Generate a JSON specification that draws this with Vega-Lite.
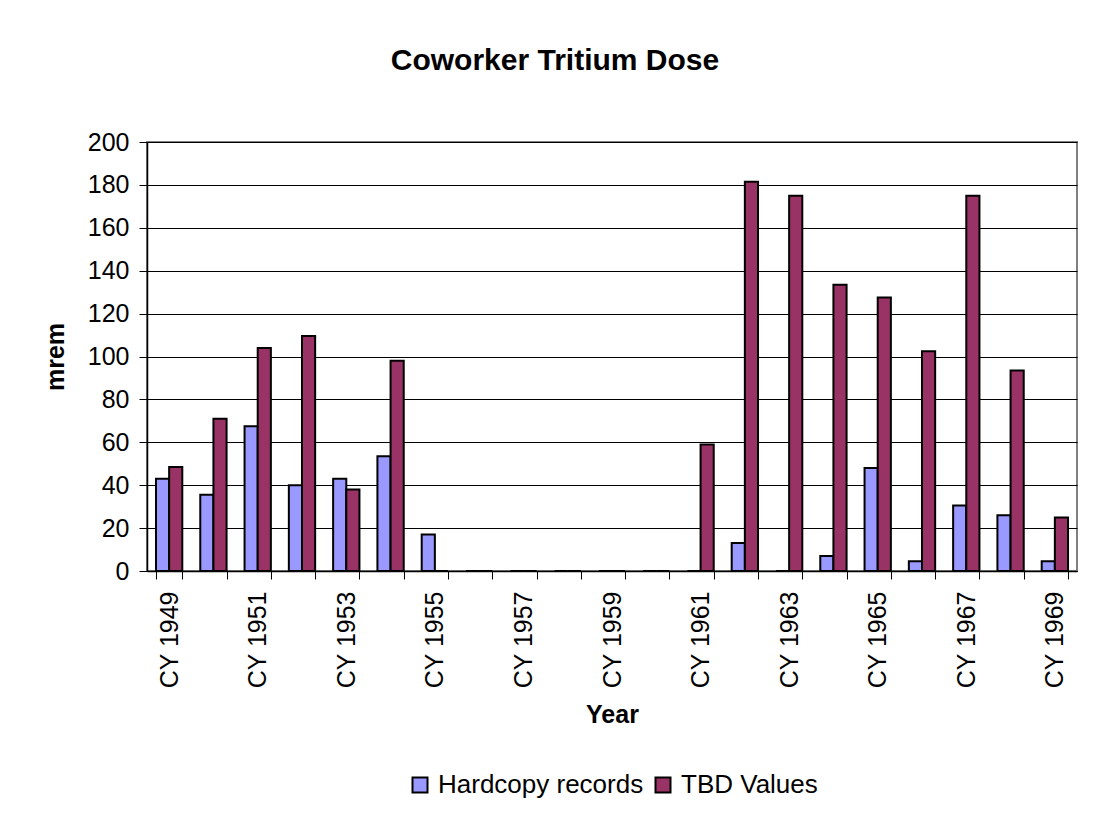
{
  "$schema": "https://vega.github.io/schema/vega-lite/v6.json",
  "width": 930,
  "height": 429,
  "autosize": "none",
  "padding": {"left": 147, "top": 142, "right": 23, "bottom": 243},
  "background": "white",
  "config": {
    "font": "Liberation Sans",
    "view": {"stroke": "#808080", "strokeWidth": 2},
    "axis": {"labelFont": "Liberation Sans", "titleFont": "Liberation Sans", "labelColor": "black", "titleColor": "black"}
  },
  "title": {
    "text": "Coworker Tritium Dose",
    "font": "Liberation Sans",
    "fontSize": 30,
    "fontWeight": "bold",
    "color": "black",
    "anchor": "middle",
    "frame": "group",
    "dx": -57,
    "offset": 54
  },
  "data": {
    "values": [
      {"year": "CY 1949", "series": "Hardcopy records", "mrem": 43},
      {"year": "CY 1949", "series": "TBD Values", "mrem": 48.5},
      {"year": "CY 1950", "series": "Hardcopy records", "mrem": 35.5},
      {"year": "CY 1950", "series": "TBD Values", "mrem": 71},
      {"year": "CY 1951", "series": "Hardcopy records", "mrem": 67.5},
      {"year": "CY 1951", "series": "TBD Values", "mrem": 104},
      {"year": "CY 1952", "series": "Hardcopy records", "mrem": 40},
      {"year": "CY 1952", "series": "TBD Values", "mrem": 109.5},
      {"year": "CY 1953", "series": "Hardcopy records", "mrem": 43},
      {"year": "CY 1953", "series": "TBD Values", "mrem": 38},
      {"year": "CY 1954", "series": "Hardcopy records", "mrem": 53.5},
      {"year": "CY 1954", "series": "TBD Values", "mrem": 98},
      {"year": "CY 1955", "series": "Hardcopy records", "mrem": 17},
      {"year": "CY 1955", "series": "TBD Values", "mrem": 0},
      {"year": "CY 1956", "series": "Hardcopy records", "mrem": 0},
      {"year": "CY 1956", "series": "TBD Values", "mrem": 0},
      {"year": "CY 1957", "series": "Hardcopy records", "mrem": 0},
      {"year": "CY 1957", "series": "TBD Values", "mrem": 0},
      {"year": "CY 1958", "series": "Hardcopy records", "mrem": 0},
      {"year": "CY 1958", "series": "TBD Values", "mrem": 0},
      {"year": "CY 1959", "series": "Hardcopy records", "mrem": 0},
      {"year": "CY 1959", "series": "TBD Values", "mrem": 0},
      {"year": "CY 1960", "series": "Hardcopy records", "mrem": 0},
      {"year": "CY 1960", "series": "TBD Values", "mrem": 0},
      {"year": "CY 1961", "series": "Hardcopy records", "mrem": 0},
      {"year": "CY 1961", "series": "TBD Values", "mrem": 59},
      {"year": "CY 1962", "series": "Hardcopy records", "mrem": 13},
      {"year": "CY 1962", "series": "TBD Values", "mrem": 181.5},
      {"year": "CY 1963", "series": "Hardcopy records", "mrem": 0},
      {"year": "CY 1963", "series": "TBD Values", "mrem": 175},
      {"year": "CY 1964", "series": "Hardcopy records", "mrem": 7},
      {"year": "CY 1964", "series": "TBD Values", "mrem": 133.5},
      {"year": "CY 1965", "series": "Hardcopy records", "mrem": 48},
      {"year": "CY 1965", "series": "TBD Values", "mrem": 127.5},
      {"year": "CY 1966", "series": "Hardcopy records", "mrem": 4.5},
      {"year": "CY 1966", "series": "TBD Values", "mrem": 102.5},
      {"year": "CY 1967", "series": "Hardcopy records", "mrem": 30.5},
      {"year": "CY 1967", "series": "TBD Values", "mrem": 175},
      {"year": "CY 1968", "series": "Hardcopy records", "mrem": 26},
      {"year": "CY 1968", "series": "TBD Values", "mrem": 93.5},
      {"year": "CY 1969", "series": "Hardcopy records", "mrem": 4.5},
      {"year": "CY 1969", "series": "TBD Values", "mrem": 25}
    ]
  },
  "mark": {"type": "bar", "stroke": "black", "strokeWidth": 2},
  "encoding": {
    "x": {
      "field": "year",
      "type": "nominal",
      "sort": null,
      "scale": {"paddingInner": 0.406, "paddingOuter": 0.203},
      "axis": {
        "title": "Year",
        "titleFontSize": 25,
        "titleFontWeight": "bold",
        "titlePadding": 14,
        "labelFontSize": 25,
        "labelAngle": -90,
        "labelPadding": 12,
        "labelExpr": "toNumber(substring(datum.value, 3)) % 2 == 1 ? datum.label : ''",
        "tickBand": "extent",
        "tickSize": 8,
        "tickColor": "black",
        "domainColor": "black",
        "domainWidth": 1.5,
        "grid": false
      }
    },
    "xOffset": {"field": "series", "type": "nominal", "sort": ["Hardcopy records", "TBD Values"]},
    "y": {
      "field": "mrem",
      "type": "quantitative",
      "scale": {"domain": [0, 200]},
      "axis": {
        "title": "mrem",
        "titleFontSize": 25,
        "titleFontWeight": "bold",
        "titlePadding": 19,
        "labelFontSize": 25,
        "labelPadding": 10,
        "values": [0, 20, 40, 60, 80, 100, 120, 140, 160, 180, 200],
        "tickSize": 8,
        "tickColor": "black",
        "domainColor": "black",
        "domainWidth": 1.5,
        "grid": true,
        "gridColor": "black",
        "gridWidth": 1
      }
    },
    "color": {
      "field": "series",
      "type": "nominal",
      "scale": {"domain": ["Hardcopy records", "TBD Values"], "range": ["#9999FF", "#993366"]},
      "legend": {
        "title": null,
        "orient": "none",
        "direction": "horizontal",
        "legendX": 260,
        "legendY": 630,
        "symbolType": "square",
        "symbolSize": 225,
        "symbolStrokeColor": "black",
        "symbolStrokeWidth": 2,
        "symbolOpacity": 1,
        "labelFont": "Liberation Sans",
        "labelFontSize": 26,
        "labelColor": "black",
        "labelOffset": 5,
        "columnPadding": 6,
        "labelLimit": 400
      }
    }
  }
}
